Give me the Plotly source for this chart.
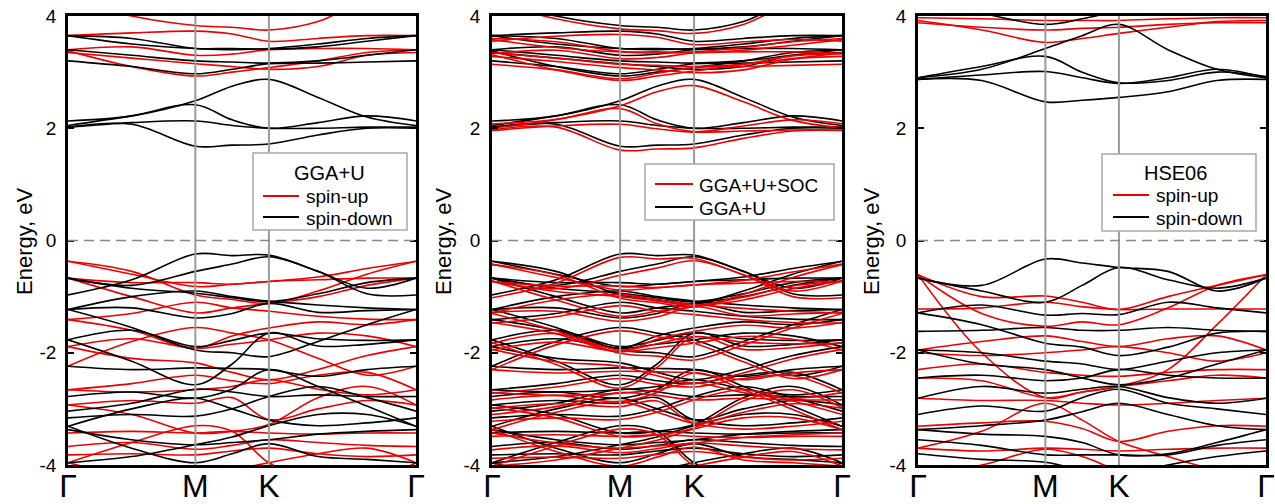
import plotly.graph_objects as go

# k-path nodes: Γ, ΓM/2, M, MK/2, K, KΓ/3, 2KΓ/3, Γ
k_path = [0.0, 0.5, 1.0, 1.2887, 1.5774, 1.9623, 2.3472, 2.7321]
k_ticks = [0.0, 1.0, 1.5774, 2.7321]
k_labels = ["Γ", "M", "K", "Γ"]
e_ticks = [-4, -2, 0, 2, 4]
e_labels = ["-4", "-2", "0", "2", "4"]

# ---------------- GGA+U, spin-up (red) ----------------
gga_up = [
    [4.30, 4.00, 3.83, 3.80, 3.75, 3.90, 4.30, 4.50],
    [3.65, 3.70, 3.73, 3.68, 3.55, 3.60, 3.65, 3.65],
    [3.40, 3.45, 3.30, 3.32, 3.40, 3.42, 3.42, 3.40],
    [3.35, 3.25, 3.15, 3.10, 3.05, 3.10, 3.30, 3.35],
    [3.38, 3.10, 2.93, 3.00, 3.08, 3.20, 3.35, 3.40],
    [-0.37, -0.60, -0.82, -0.78, -0.73, -0.65, -0.50, -0.37],
    [-0.37, -0.55, -0.97, -1.05, -1.12, -0.90, -0.60, -0.37],
    [-0.67, -0.75, -0.75, -0.78, -0.73, -0.70, -0.67, -0.67],
    [-0.67, -1.00, -1.29, -1.20, -1.12, -1.00, -0.80, -0.67],
    [-1.41, -1.30, -1.10, -1.20, -1.26, -1.35, -1.40, -1.41],
    [-1.41, -1.60, -1.92, -1.70, -1.56, -1.45, -1.50, -1.41],
    [-1.89, -1.75, -1.92, -1.85, -1.77, -1.65, -1.70, -1.89],
    [-1.89, -2.10, -2.18, -2.35, -2.48, -2.30, -2.05, -1.89],
    [-2.24, -1.80, -1.55, -1.65, -1.77, -2.10, -2.40, -2.24],
    [-2.66, -2.55, -2.40, -2.50, -2.55, -2.40, -2.35, -2.66],
    [-2.66, -2.70, -2.66, -2.60, -2.48, -2.65, -2.75, -2.66],
    [-2.93, -2.85, -2.90, -2.80, -3.19, -3.00, -2.85, -2.93],
    [-2.93, -3.10, -3.43, -3.40, -3.28, -2.80, -2.60, -2.93],
    [-3.43, -3.40, -3.43, -3.40, -3.43, -3.45, -3.43, -3.43],
    [-3.67, -3.60, -3.72, -3.65, -3.55, -3.60, -3.65, -3.67],
    [-3.82, -3.80, -3.82, -3.75, -3.70, -3.80, -3.85, -3.82],
    [-3.96, -3.60, -3.30, -3.40, -3.96, -4.30, -4.30, -3.96],
    [-3.96, -4.20, -4.30, -4.10, -3.96, -3.80, -3.70, -3.96],
]

# ---------------- GGA+U, spin-down (black) ----------------
gga_dn = [
    [2.02, 2.07, 1.68, 1.70, 1.72, 1.88, 2.00, 2.00],
    [2.13, 2.22, 2.49, 2.75, 2.87, 2.55, 2.20, 2.05],
    [2.05, 2.22, 2.42, 2.15, 2.00, 2.10, 2.22, 2.13],
    [2.02, 2.10, 2.13, 2.05, 2.00, 2.00, 2.02, 2.02],
    [3.20, 3.10, 2.97, 3.05, 3.15, 3.16, 3.18, 3.20],
    [3.40, 3.30, 3.20, 3.18, 3.16, 3.20, 3.30, 3.40],
    [3.65, 3.50, 3.42, 3.42, 3.41, 3.45, 3.55, 3.65],
    [3.65, 3.60, 3.42, 3.40, 3.42, 3.50, 3.60, 3.65],
    [-0.97, -0.70, -0.24, -0.27, -0.26, -0.55, -0.85, -0.67],
    [-0.67, -0.80, -0.55, -0.42, -0.29, -0.55, -0.95, -0.97],
    [-0.67, -0.85, -0.94, -1.02, -1.09, -0.95, -0.75, -0.67],
    [-1.23, -1.00, -0.90, -1.00, -1.08, -1.15, -1.20, -1.23],
    [-1.23, -1.20, -1.38, -1.30, -1.12, -1.28, -1.25, -1.23],
    [-1.77, -1.60, -1.89, -1.78, -1.65, -1.75, -1.78, -1.77],
    [-1.23, -1.55, -1.95, -2.00, -2.07, -1.80, -1.50, -1.23],
    [-2.24, -2.30, -2.27, -2.28, -2.30, -2.42, -2.30, -2.24],
    [-1.77, -2.15, -2.57, -2.20, -1.65, -1.88, -1.85, -1.77],
    [-2.78, -2.70, -2.81, -2.65, -2.30, -2.60, -2.95, -3.31],
    [-3.04, -2.90, -2.65, -2.70, -2.78, -2.75, -2.78, -2.78],
    [-3.16, -3.10, -3.13, -3.00, -2.78, -2.60, -2.80, -3.04],
    [-3.31, -3.00, -2.81, -3.00, -3.20, -3.30, -3.25, -3.16],
    [-3.37, -3.55, -3.64, -3.60, -3.55, -3.45, -3.40, -3.37],
    [-3.31, -3.70, -3.96, -3.80, -3.62, -3.85, -3.90, -3.96],
    [-3.96, -3.85, -3.64, -3.50, -3.30, -3.10, -3.10, -3.31],
]

# ---------------- GGA+U+SOC (red, middle panel) ----------------
gga_soc = [
    [4.25, 3.95, 3.77, 3.74, 3.69, 3.85, 4.25, 4.45],
    [3.55, 3.64, 3.67, 3.62, 3.49, 3.54, 3.58, 3.55],
    [3.33, 3.39, 3.24, 3.26, 3.34, 3.36, 3.36, 3.33],
    [3.28, 3.19, 3.08, 3.04, 2.99, 3.04, 3.23, 3.28],
    [3.31, 3.04, 2.85, 2.93, 3.02, 3.14, 3.29, 3.33],
    [1.97, 2.02, 1.61, 1.63, 1.65, 1.82, 1.95, 1.96],
    [2.08, 2.16, 2.40, 2.65, 2.76, 2.47, 2.14, 2.01],
    [2.00, 2.15, 2.35, 2.08, 1.94, 2.04, 2.15, 2.08],
    [1.96, 2.04, 2.07, 1.99, 1.93, 1.95, 1.97, 1.97],
    [3.14, 3.04, 2.88, 2.98, 3.08, 3.10, 3.12, 3.14],
    [3.34, 3.25, 3.14, 3.12, 3.10, 3.14, 3.24, 3.34],
    [3.58, 3.44, 3.36, 3.36, 3.35, 3.39, 3.48, 3.58],
    [3.60, 3.54, 3.37, 3.34, 3.36, 3.44, 3.54, 3.60],
    [-0.42, -0.66, -0.88, -0.84, -0.79, -0.71, -0.56, -0.42],
    [-0.43, -0.61, -1.03, -1.11, -1.18, -0.96, -0.66, -0.43],
    [-0.73, -0.81, -0.81, -0.84, -0.79, -0.76, -0.73, -0.73],
    [-0.72, -1.06, -1.35, -1.26, -1.18, -1.06, -0.86, -0.72],
    [-1.47, -1.36, -1.16, -1.26, -1.32, -1.41, -1.46, -1.47],
    [-1.46, -1.66, -1.98, -1.76, -1.62, -1.51, -1.56, -1.46],
    [-1.95, -1.81, -1.98, -1.91, -1.83, -1.71, -1.76, -1.95],
    [-1.94, -2.16, -2.24, -2.41, -2.54, -2.36, -2.11, -1.94],
    [-2.30, -1.86, -1.61, -1.71, -1.83, -2.16, -2.46, -2.30],
    [-2.72, -2.61, -2.46, -2.56, -2.61, -2.46, -2.41, -2.72],
    [-2.71, -2.76, -2.72, -2.66, -2.54, -2.71, -2.81, -2.71],
    [-2.99, -2.91, -2.96, -2.86, -3.25, -3.06, -2.91, -2.99],
    [-2.98, -3.16, -3.49, -3.46, -3.34, -2.86, -2.66, -2.98],
    [-3.49, -3.46, -3.49, -3.46, -3.49, -3.51, -3.49, -3.49],
    [-3.73, -3.66, -3.78, -3.71, -3.61, -3.66, -3.71, -3.73],
    [-3.88, -3.86, -3.88, -3.81, -3.76, -3.86, -3.91, -3.88],
    [-4.02, -3.66, -3.36, -3.46, -4.02, -4.36, -4.36, -4.02],
    [-4.02, -4.26, -4.36, -4.16, -4.02, -3.86, -3.76, -4.02],
    [-1.02, -0.76, -0.30, -0.33, -0.32, -0.61, -0.90, -0.72],
    [-0.72, -0.86, -0.62, -0.49, -0.36, -0.61, -1.00, -1.02],
    [-0.73, -0.91, -1.00, -1.08, -1.15, -1.01, -0.81, -0.73],
    [-1.29, -1.06, -0.96, -1.06, -1.14, -1.21, -1.26, -1.29],
    [-1.28, -1.26, -1.44, -1.36, -1.18, -1.34, -1.31, -1.28],
    [-1.83, -1.66, -1.95, -1.84, -1.71, -1.81, -1.84, -1.83],
    [-1.30, -1.61, -2.01, -2.06, -2.13, -1.86, -1.56, -1.30],
    [-2.30, -2.36, -2.33, -2.34, -2.36, -2.48, -2.36, -2.30],
    [-1.82, -2.21, -2.63, -2.26, -1.72, -1.94, -1.91, -1.82],
    [-2.84, -2.76, -2.87, -2.71, -2.36, -2.66, -3.01, -3.37],
    [-3.10, -2.96, -2.71, -2.76, -2.84, -2.81, -2.84, -2.84],
    [-3.22, -3.16, -3.19, -3.06, -2.84, -2.66, -2.86, -3.10],
    [-3.37, -3.06, -2.87, -3.06, -3.26, -3.36, -3.31, -3.22],
    [-3.43, -3.61, -3.70, -3.66, -3.61, -3.51, -3.46, -3.43],
    [-3.37, -3.76, -4.02, -3.86, -3.68, -3.91, -3.96, -4.02],
    [-4.02, -3.91, -3.70, -3.56, -3.36, -3.16, -3.16, -3.37],
]

# ---------------- HSE06, spin-up (red) ----------------
hse_up = [
    [3.92, 3.75, 3.53, 3.60, 3.69, 3.80, 3.90, 3.92],
    [3.88, 3.80, 3.75, 3.78, 3.80, 3.85, 3.88, 3.88],
    [3.97, 3.95, 3.92, 3.92, 3.92, 3.95, 3.97, 3.97],
    [-0.61, -1.00, -0.99, -1.10, -1.23, -1.00, -0.80, -0.61],
    [-0.61, -1.30, -1.53, -1.45, -1.50, -1.20, -0.80, -0.61],
    [-1.22, -1.20, -1.10, -1.18, -1.23, -1.22, -1.22, -1.22],
    [-1.95, -1.80, -1.70, -1.80, -1.89, -1.75, -1.70, -1.95],
    [-2.00, -2.05, -2.00, -1.95, -1.89, -2.00, -2.15, -2.00],
    [-2.30, -2.20, -2.35, -2.40, -2.42, -2.35, -2.30, -2.30],
    [-2.45, -2.50, -2.80, -2.70, -2.60, -2.50, -2.40, -2.45],
    [-2.81, -2.85, -2.85, -2.90, -2.93, -2.90, -2.85, -2.81],
    [-0.61, -2.00, -2.80, -2.70, -2.60, -2.30, -1.50, -0.61],
    [-3.31, -3.25, -3.22, -3.35, -3.58, -3.40, -3.30, -3.31],
    [-3.70, -3.40, -2.90, -3.20, -3.58, -3.85, -4.10, -4.30],
    [-3.70, -3.75, -3.70, -3.72, -3.75, -3.72, -3.70, -3.70],
    [-4.20, -4.00, -3.72, -3.85, -4.10, -4.30, -4.30, -4.20],
]

# ---------------- HSE06, spin-down (black) ----------------
hse_dn = [
    [2.87, 2.85, 2.47, 2.50, 2.55, 2.65, 2.85, 2.87],
    [2.90, 3.05, 3.42, 3.65, 3.85, 3.40, 3.05, 2.90],
    [2.90, 3.10, 3.28, 3.00, 2.81, 2.85, 3.00, 2.92],
    [2.87, 2.95, 3.01, 2.90, 2.80, 2.90, 3.05, 2.90],
    [4.30, 4.05, 3.85, 3.95, 4.10, 4.30, 4.40, 4.40],
    [-0.67, -0.80, -0.33, -0.40, -0.48, -0.55, -0.90, -0.67],
    [-0.67, -0.90, -1.10, -0.80, -0.48, -0.70, -0.85, -0.67],
    [-1.29, -1.15, -1.33, -1.30, -1.32, -1.10, -1.20, -1.29],
    [-1.62, -1.60, -1.55, -1.60, -1.60, -1.55, -1.60, -1.62],
    [-1.29, -1.50, -1.83, -1.90, -2.05, -1.90, -1.65, -1.62],
    [-1.95, -2.00, -2.15, -2.20, -2.30, -2.15, -2.00, -1.95],
    [-1.95, -2.20, -2.30, -2.45, -2.57, -2.45, -2.20, -1.95],
    [-2.45, -2.40, -2.50, -2.45, -2.30, -2.40, -2.45, -2.45],
    [-2.81, -2.60, -2.72, -2.65, -2.60, -2.80, -2.90, -2.81],
    [-3.10, -2.95, -3.04, -2.80, -2.65, -2.90, -3.00, -3.10],
    [-3.37, -3.45, -3.49, -3.60, -3.82, -3.80, -3.60, -3.37],
    [-3.37, -3.30, -3.20, -3.05, -2.90, -3.10, -3.30, -3.37],
    [-3.55, -3.65, -3.82, -3.82, -3.82, -3.82, -3.65, -3.55],
    [-3.80, -3.90, -3.95, -4.10, -4.20, -4.00, -3.85, -3.75],
]

# legend texts per panel: (title, [(label, colour), ...])
RED = "#ee0000"
BLACK = "#000000"
legend_titles = ["GGA+U", None, "HSE06"]
legend_items = [
    [("spin-up", RED), ("spin-down", BLACK)],
    [("GGA+U+SOC", RED), ("GGA+U", BLACK)],
    [("spin-up", RED), ("spin-down", BLACK)],
]

FONT = "Liberation Sans, Arial, sans-serif"
W, H = 1275, 504

fig = go.Figure()


def add_bands(bands, color, axis):
    for band in bands:
        fig.add_trace(go.Scatter(
            x=k_path, y=band, mode="lines",
            line=dict(color=color, width=1.6, shape="spline", smoothing=1.0),
            xaxis="x" + axis, yaxis="y" + axis,
            showlegend=False, hoverinfo="skip",
        ))


add_bands(gga_up, RED, "")
add_bands(gga_dn, BLACK, "")
add_bands(gga_up + gga_dn, BLACK, "2")
add_bands(gga_soc, RED, "2")
add_bands(hse_up, RED, "3")
add_bands(hse_dn, BLACK, "3")

ydom = [1 - 465 / H, 1 - 16 / H]
xdoms = [[68 / W, 416 / W], [492 / W, 842 / W], [918 / W, 1266 / W]]

xax = dict(range=[k_path[0], k_path[-1]], tickvals=k_ticks, ticktext=k_labels,
           showline=True, linecolor="black", linewidth=2.5, mirror=True,
           showgrid=False, zeroline=False, ticks="", automargin=False,
           tickfont=dict(size=32, color="black", family=FONT),
           ticklabelstandoff=-9)
yax = dict(range=[-4, 4], tickvals=e_ticks, ticktext=e_labels,
           showline=True, linecolor="black", linewidth=2.5, mirror="allticks",
           showgrid=False, zeroline=False, ticks="inside", ticklen=6,
           tickwidth=2, tickcolor="black", automargin=False,
           tickfont=dict(size=19, color="black", family=FONT),
           ticklabelstandoff=5)

layout = dict(width=W, height=H, margin=dict(l=0, r=0, t=0, b=0, autoexpand=False),
              plot_bgcolor="white", paper_bgcolor="white", showlegend=False,
              font=dict(family=FONT, color="black"))


def px(x):
    return x / W


def py(y):
    return 1 - y / H


shapes = []
annotations = []
# legend geometry in pixels (box l, r, t, b; line x0, x1; text x; row ys; title x, y)
legend_geo = [
    dict(box=(253, 407, 153, 230), lx=(263, 299), tx=304, rows=(196, 217), title=(329, 173)),
    dict(box=(645, 834, 164, 220), lx=(655, 693), tx=697, rows=(184, 207), title=None),
    dict(box=(1102, 1256, 154, 231), lx=(1113, 1149), tx=1154, rows=(195, 217), title=(1175, 173)),
]
for i, dom in enumerate(xdoms):
    s = "" if i == 0 else str(i + 1)
    layout["xaxis" + s] = dict(xax, domain=dom, anchor="y" + s)
    layout["yaxis" + s] = dict(yax, domain=ydom, anchor="x" + s)
    for kx in k_ticks[1:3]:
        shapes.append(dict(type="line", xref="x" + s, yref="y" + s + " domain",
                           x0=kx, x1=kx, y0=0, y1=1,
                           line=dict(color="#9a9a9a", width=2), layer="above"))
    shapes.append(dict(type="line", xref="x" + s + " domain", yref="y" + s,
                       x0=0, x1=1, y0=0, y1=0,
                       line=dict(color="#888888", width=1.5, dash="10px,6px"),
                       layer="above"))
    annotations.append(dict(text="Energy, eV", textangle=-90, showarrow=False,
                            xref="paper", yref="paper",
                            x=px([24, 443, 871][i]), y=py(241),
                            xanchor="center", yanchor="middle",
                            font=dict(size=22, color="black", family=FONT)))
    # legend box
    g = legend_geo[i]
    l, r, t, b = g["box"]
    shapes.append(dict(type="rect", xref="paper", yref="paper",
                       x0=px(l), x1=px(r), y0=py(b), y1=py(t),
                       fillcolor="white", line=dict(color="#a8a8a8", width=1.5),
                       layer="above"))
    if legend_titles[i]:
        annotations.append(dict(text=legend_titles[i], showarrow=False,
                                xref="paper", yref="paper",
                                x=px(g["title"][0]), y=py(g["title"][1]),
                                xanchor="center", yanchor="middle",
                                font=dict(size=20, color="black", family=FONT)))
    for (label, col), yrow in zip(legend_items[i], g["rows"]):
        shapes.append(dict(type="line", xref="paper", yref="paper",
                           x0=px(g["lx"][0]), x1=px(g["lx"][1]),
                           y0=py(yrow), y1=py(yrow),
                           line=dict(color=col, width=1.8), layer="above"))
        annotations.append(dict(text=label, showarrow=False,
                                xref="paper", yref="paper",
                                x=px(g["tx"]), y=py(yrow + 1),
                                xanchor="left", yanchor="middle",
                                font=dict(size=19, color="black", family=FONT)))

layout["shapes"] = shapes
layout["annotations"] = annotations

fig.update_layout(**layout)
fig.write_html("out.html")
